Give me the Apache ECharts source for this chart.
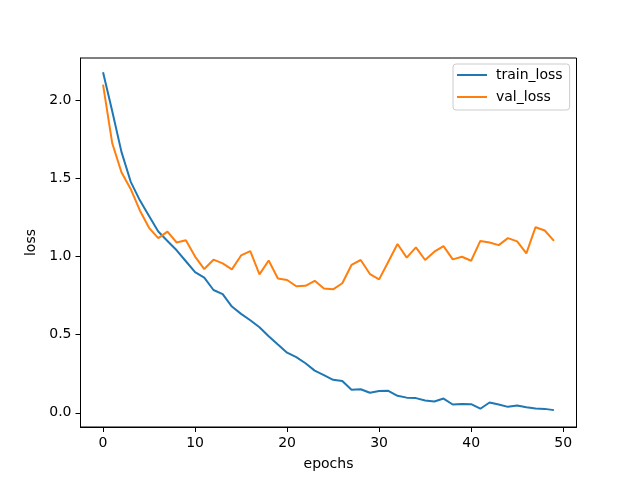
<!DOCTYPE html>
<html>
<head>
<meta charset="utf-8">
<script src="https://cdn.jsdelivr.net/npm/echarts@6/dist/echarts.min.js"></script>
<style>html,body{margin:0;padding:0;background:#fff;}#c{width:640px;height:480px;}</style>
</head>
<body>
<div id="c"></div>
<script>
var epochs = [];
for (var i = 0; i < 50; i++) epochs.push(i);
var trainLoss = [2.18, 1.93, 1.67, 1.48, 1.36, 1.26, 1.16, 1.10, 1.04, 0.97,
  0.90, 0.865, 0.786, 0.76, 0.68, 0.633, 0.592, 0.547, 0.49, 0.437,
  0.385, 0.356, 0.317, 0.27, 0.241, 0.211, 0.203, 0.147, 0.151, 0.128,
  0.139, 0.141, 0.109, 0.097, 0.094, 0.079, 0.072, 0.091, 0.053, 0.057,
  0.055, 0.026, 0.066, 0.053, 0.038, 0.047, 0.036, 0.028, 0.025, 0.017];
var valLoss = [2.10, 1.725, 1.54, 1.433, 1.295, 1.184, 1.118, 1.16, 1.09, 1.105,
  1.0, 0.92, 0.98, 0.956, 0.918, 1.007, 1.035, 0.886, 0.975, 0.86,
  0.85, 0.81, 0.813, 0.845, 0.795, 0.79, 0.829, 0.946, 0.978, 0.888,
  0.854, 0.967, 1.08, 0.993, 1.059, 0.978, 1.031, 1.067, 0.982, 0.999,
  0.973, 1.10, 1.09, 1.073, 1.118, 1.097, 1.02, 1.188, 1.167, 1.10];
var xTicks = [0, 10, 20, 30, 40, 50];
var yTicks = [0, 0.5, 1.0, 1.5, 2.0];

function pairs(arr) { return epochs.map(function (e, k) { return [e, arr[k]]; }); }

var chart = echarts.init(document.getElementById('c'), null, {renderer: 'canvas'});
var font = 'DejaVu Sans';
var lineIcon = 'path://M0,0 L30,0 L30,2 L0,2 Z';
chart.setOption({
  animation: false,
  backgroundColor: '#fff',
  textStyle: {fontFamily: font},
  grid: {left: 80.5, right: 63.5, top: 58, bottom: 53, show: true, borderColor: '#000', borderWidth: 1, backgroundColor: 'transparent'},
  legend: {
    orient: 'vertical', left: 453, top: 64,
    padding: [4, 7, 6, 4], itemGap: 8, itemWidth: 30, itemHeight: 2,
    borderColor: '#cccccc', borderWidth: 1, borderRadius: 3,
    backgroundColor: 'rgba(255,255,255,0.8)',
    textStyle: {fontFamily: font, fontSize: 14, color: '#000', padding: [0, 0, 0, 4]},
    data: [{name: 'train_loss', icon: lineIcon}, {name: 'val_loss', icon: lineIcon}]
  },
  xAxis: {
    type: 'value', min: -2.45, max: 51.45,
    name: 'epochs', nameLocation: 'middle', nameGap: 30,
    nameTextStyle: {fontFamily: font, fontSize: 14, color: '#000'},
    axisLine: {show: true, onZero: false, lineStyle: {color: '#000', width: 1}},
    axisTick: {show: true, customValues: xTicks, length: 5, lineStyle: {color: '#000'}},
    axisLabel: {customValues: xTicks, fontFamily: font, fontSize: 14, color: '#000', margin: 9},
    splitLine: {show: false}
  },
  yAxis: {
    type: 'value', min: -0.091, max: 2.271,
    name: 'loss', nameLocation: 'middle', nameGap: 33,
    nameTextStyle: {fontFamily: font, fontSize: 14, color: '#000'},
    axisLine: {show: true, onZero: false, lineStyle: {color: '#000', width: 1}},
    axisTick: {show: true, customValues: yTicks, length: 5, lineStyle: {color: '#000'}},
    axisLabel: {customValues: yTicks, fontFamily: font, fontSize: 14, color: '#000', margin: 9,
      formatter: function (v) { return v.toFixed(1); }},
    splitLine: {show: false}
  },
  series: [
    {name: 'train_loss', type: 'line', data: pairs(trainLoss), showSymbol: false, symbol: 'none',
     lineStyle: {color: '#1f77b4', width: 2}, itemStyle: {color: '#1f77b4'}},
    {name: 'val_loss', type: 'line', data: pairs(valLoss), showSymbol: false, symbol: 'none',
     lineStyle: {color: '#ff7f0e', width: 2}, itemStyle: {color: '#ff7f0e'}}
  ]
});
</script>
</body>
</html>
